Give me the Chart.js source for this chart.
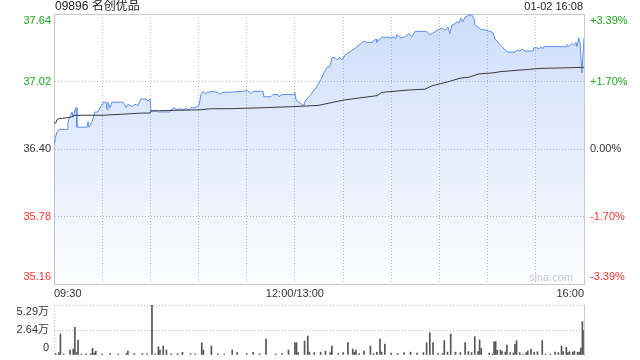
<!doctype html>
<html lang="zh">
<head>
<meta charset="utf-8">
<title>09896 名创优品</title>
<style>
  * { margin: 0; padding: 0; }
  body { background: #fff; width: 640px; height: 360px; overflow: hidden; }
  .box { position: relative; width: 640px; height: 360px; }
  #priceChart { position: absolute; left: 0; top: 0; }
  #volChart { position: absolute; left: 0; top: 300px; }
</style>
</head>
<body>
<div class="box">
  <canvas id="priceChart" width="640" height="300"></canvas>
  <canvas id="volChart" width="640" height="60"></canvas>
</div>
<script src="https://cdn.jsdelivr.net/npm/chart.js/dist/chart.umd.min.js"></script>
<script>
const stockName = '09896 名创优品';
const stamp = '01-02 16:08';

// minutes after 09:30, lunch removed (150 = 12:00/13:00, 330 = 16:00)
const priceMin = [
  0, 0.6, 1.9, 3.7, 8.1, 8.7, 11.2, 11.8, 13.1, 13.7,
  14.3, 20.5, 21.2, 21.8, 23.7, 25.5, 27.4, 29.9, 30.5, 32.4,
  33.0, 33.6, 34.9, 36.1, 43.0, 44.8, 46.1, 48.6, 50.4, 52.3,
  54.2, 57.3, 58.5, 59.8, 60.4, 63.5, 64.8, 72.2, 72.8, 74.7,
  76.6, 78.4, 80.3, 82.2, 84.1, 85.3, 87.8, 90.3, 91.5, 92.8,
  94.0, 95.9, 98.4, 102.1, 103.4, 104.6, 107.1, 118.3, 120.2, 122.7,
  123.9, 130.1, 130.7, 135.1, 136.3, 139.5, 140.1, 142.0, 149.4, 150.0,
  150.7, 152.5, 154.4, 155.7, 156.3, 158.1, 160.0, 161.3, 163.1, 164.4,
  166.2, 168.1, 170.0, 171.8, 173.1, 174.9, 176.2, 178.1, 179.3, 181.8,
  184.9, 188.0, 191.1, 193.0, 194.9, 198.0, 200.5, 201.1, 203.6, 205.5,
  206.7, 207.3, 209.8, 211.1, 212.9, 213.5, 216.0, 218.5, 221.0, 222.9,
  224.8, 232.2, 233.5, 236.6, 239.7, 241.6, 243.4, 245.3, 246.5, 247.8,
  249.7, 250.9, 252.2, 253.4, 254.6, 255.9, 258.4, 260.2, 261.5, 262.1,
  264.0, 265.8, 269.6, 271.5, 273.3, 274.6, 277.7, 280.8, 282.7, 287.0,
  288.9, 290.1, 291.4, 293.2, 298.2, 298.8, 300.7, 302.0, 303.2, 304.4,
  305.1, 318.8, 319.4, 320.6, 322.5, 323.8, 325.0, 325.6, 326.8, 327.5,
  328.7, 330
];
const price = [
  36.46, 36.49, 36.56, 36.58, 36.58, 36.65, 36.74, 36.69, 36.76, 36.78,
  36.60, 36.60, 36.65, 36.60, 36.65, 36.74, 36.74, 36.81, 36.83, 36.83,
  36.76, 36.83, 36.78, 36.83, 36.83, 36.78, 36.81, 36.79, 36.81, 36.80,
  36.86, 36.86, 36.84, 36.86, 36.75, 36.75, 36.74, 36.74, 36.76, 36.78,
  36.76, 36.77, 36.76, 36.77, 36.76, 36.78, 36.78, 36.80, 36.90, 36.93,
  36.91, 36.92, 36.93, 36.92, 36.90, 36.92, 36.92, 36.93, 36.94, 36.91,
  36.93, 36.93, 36.88, 36.88, 36.90, 36.90, 36.88, 36.90, 36.90, 36.92,
  36.85, 36.83, 36.81, 36.80, 36.84, 36.87, 36.90, 36.93, 36.96, 36.99,
  37.04, 37.10, 37.15, 37.16, 37.24, 37.24, 37.22, 37.24, 37.22, 37.27,
  37.30, 37.33, 37.37, 37.39, 37.38, 37.38, 37.41, 37.38, 37.42, 37.43,
  37.42, 37.43, 37.42, 37.43, 37.42, 37.45, 37.42, 37.43, 37.46, 37.43,
  37.48, 37.48, 37.45, 37.47, 37.50, 37.51, 37.49, 37.52, 37.46, 37.54,
  37.55, 37.57, 37.56, 37.60, 37.57, 37.61, 37.63, 37.63, 37.60, 37.54,
  37.52, 37.50, 37.49, 37.48, 37.47, 37.41, 37.36, 37.31, 37.29, 37.29,
  37.31, 37.30, 37.32, 37.30, 37.30, 37.33, 37.33, 37.32, 37.34, 37.32,
  37.34, 37.34, 37.36, 37.34, 37.37, 37.35, 37.38, 37.34, 37.42, 37.38,
  37.10, 37.42
];
const avgMin = [
  0, 1.2, 1.9, 3.1, 10.0, 13.1, 30.5, 54.8, 59.8, 60.4,
  90.9, 97.7, 109.6, 132.0, 150.0, 164.4, 180.5, 201.1, 204.2, 219.2,
  231.0, 235.3, 245.9, 252.8, 258.4, 264.6, 273.9, 277.7, 302.6, 330
];
const avgPrice = [
  36.64, 36.64, 36.67, 36.68, 36.69, 36.71, 36.71, 36.73, 36.73, 36.75,
  36.76, 36.77, 36.77, 36.78, 36.79, 36.80, 36.85, 36.89, 36.92, 36.94,
  36.95, 36.98, 37.02, 37.05, 37.06, 37.09, 37.10, 37.11, 37.14, 37.15
];
// volume per minute, in 万
const volMin = [
  1, 3, 4, 6, 10, 12, 13, 14, 15, 17,
  20, 23, 24, 25, 26, 30, 35, 40, 45, 46,
  50, 55, 58, 61, 63, 65, 66, 68, 70, 73,
  77, 80, 85, 88, 92, 93, 98, 102, 106, 111,
  114, 120, 124, 128, 132, 138, 142, 146, 150, 151,
  152, 156, 158, 159, 162, 166, 169, 172, 173, 177,
  180, 183, 186, 187, 188, 190, 193, 197, 199, 201,
  203, 204, 206, 210, 214, 218, 222, 226, 230, 232,
  234, 236, 239, 242, 243, 245, 247, 250, 253, 256,
  258, 260, 262, 264, 265, 266, 271, 273, 274, 275,
  276, 278, 279, 281, 282, 284, 286, 287, 288, 290,
  292, 294, 295, 297, 299, 301, 304, 306, 309, 312,
  314, 316, 317, 319, 320, 321, 323, 324, 326, 327,
  328, 329, 330
];
const vol = [
  0.15, 0.25, 2.22, 0.1, 0.53, 0.63, 2.93, 0.25, 1.59, 0.1,
  0.12, 0.15, 0.71, 0.2, 0.42, 0.1, 0.15, 0.1, 0.15, 0.42,
  0.15, 0.15, 0.12, 5.29, 0.1, 0.88, 0.53, 0.95, 0.53, 0.12,
  0.15, 0.28, 0.12, 0.1, 1.31, 0.53, 0.95, 0.12, 0.1, 0.53,
  0.25, 0.15, 0.28, 0.12, 1.69, 0.1, 0.15, 0.53, 1.31, 1.31,
  0.25, 1.48, 2.01, 0.3, 0.25, 0.3, 0.42, 0.25, 0.95, 0.15,
  0.25, 1.31, 0.63, 0.3, 0.53, 0.15, 0.42, 0.95, 0.15, 0.3,
  1.69, 0.3, 1.16, 0.2, 0.15, 0.25, 0.3, 0.2, 0.25, 1.31,
  2.36, 1.31, 0.15, 0.15, 1.52, 0.3, 2.22, 0.3, 0.25, 1.31,
  0.35, 0.25, 1.94, 0.35, 1.59, 0.71, 0.2, 0.1, 1.41, 1.41,
  0.5, 0.53, 0.35, 0.3, 1.06, 0.25, 0.2, 1.13, 1.52, 0.25,
  0.1, 0.25, 0.42, 0.63, 0.3, 0.35, 1.52, 0.1, 0.1, 0.3,
  0.25, 0.95, 0.35, 0.81, 0.25, 0.35, 0.3, 0.4, 0.3, 0.3,
  0.74, 3.53, 2.58
];

const priceTicks = [35.16, 35.78, 36.40, 37.02, 37.64];
const pctTicks = ['-3.39%', '-1.70%', '0.00%', '+1.70%', '+3.39%'];
const timeTicks = [0, 30, 60, 90, 120, 150, 180, 210, 240, 270, 300, 330];
const timeLabels = ['09:30', '', '', '', '', '12:00/13:00', '', '', '', '', '', '16:00'];
const volTicks = [0, 2.64, 5.29];
const volLabels = ['0', '2.64万', '5.29万'];

const FONT = '"Liberation Sans", Arial, "Noto Sans CJK SC", sans-serif';
Chart.defaults.font.family = FONT;
Chart.defaults.font.size = 11;
Chart.defaults.color = '#333';

const GREEN = '#1aa81a', RED = '#f0382e', DARK = '#333';
const BLUE = '#5a90ee';
const GRID = '#bdbdbd';

// first / last label pushed inside the plot (2-line trick)
function edgeLabel(text, i, n) {
  if (i === 0) return [text, ''];
  if (i === n - 1) return ['', text];
  return text;
}
function toTicks(arr) {
  return arr.map(v => ({ value: v }));
}
function noPad(s) {
  s.paddingTop = 0; s.paddingBottom = 0; s.paddingLeft = 0; s.paddingRight = 0;
}
function sideColor(ctx) {
  if (ctx.index > 2) return GREEN;
  if (ctx.index < 2) return RED;
  return DARK;
}

const headerText = {
  id: 'headerText',
  afterDraw(chart) {
    const { ctx, chartArea: a } = chart;
    ctx.save();
    ctx.textBaseline = 'middle';
    ctx.fillStyle = '#222';
    ctx.font = '12px ' + FONT;
    ctx.textAlign = 'left';
    ctx.fillText(stockName, a.left + 1, 7);
    ctx.font = '11px ' + FONT;
    ctx.textAlign = 'right';
    ctx.fillText(stamp, a.right - 1, 7);
    ctx.fillStyle = '#c8c8c8';
    ctx.fillText('sina.com', a.right - 11, a.bottom - 6);
    ctx.restore();
  }
};

// price chart
const priceChart = new Chart(document.getElementById('priceChart'), {
  type: 'line',
  data: {
    datasets: [{
      label: 'price',
      data: priceMin.map((m, i) => ({ x: m, y: price[i] })),
      borderColor: BLUE,
      borderWidth: 1,
      pointRadius: 0,
      fill: 'start',
      order: 1,
      backgroundColor: ctx => {
        const a = ctx.chart.chartArea;
        if (!a) return 'rgba(90,144,238,0.15)';
        const g = ctx.chart.ctx.createLinearGradient(0, a.top, 0, a.bottom);
        g.addColorStop(0, 'rgba(90,144,238,0.30)');
        g.addColorStop(1, 'rgba(90,144,238,0.02)');
        return g;
      }
    }, {
      label: 'avg',
      data: avgMin.map((m, i) => ({ x: m, y: avgPrice[i] })),
      borderColor: '#3a3a3a',
      borderWidth: 1,
      pointRadius: 0,
      fill: false,
      order: 0
    }]
  },
  options: {
    responsive: false,
    animation: false,
    events: [],
    layout: { padding: { top: 14 } },
    plugins: { legend: { display: false }, tooltip: { enabled: false } },
    scales: {
      x: {
        type: 'linear', min: 0, max: 330,
        afterBuildTicks: s => { s.ticks = toTicks(timeTicks); },
        afterFit: s => { s.height = 16; noPad(s); },
        grid: { color: GRID, drawTicks: false },
        border: { color: '#c8c8c8', dash: [1, 2] },
        ticks: {
          autoSkip: false, maxRotation: 0, align: 'inner', padding: 3, color: DARK,
          callback: (v, i) => timeLabels[i]
        }
      },
      y: {
        position: 'left', min: 35.16, max: 37.64,
        afterBuildTicks: s => { s.ticks = toTicks(priceTicks); },
        afterFit: s => { s.width = 54; noPad(s); },
        grid: {
          drawTicks: false,
          color: ctx => ctx.index === priceTicks.length - 1 ? '#c8c8c8' : GRID
        },
        border: {
          color: '#c8c8c8',
          dash: ctx => ctx.index === priceTicks.length - 1 ? [] : [1, 2]
        },
        ticks: {
          autoSkip: false, padding: 3, color: sideColor,
          callback: (v, i) => edgeLabel(priceTicks[i].toFixed(2), i, priceTicks.length)
        }
      },
      y2: {
        position: 'right', min: 35.16, max: 37.64,
        afterBuildTicks: s => { s.ticks = toTicks(priceTicks); },
        afterFit: s => { s.width = 56; noPad(s); },
        grid: { display: false, drawTicks: false },
        border: { color: '#c8c8c8' },
        ticks: {
          autoSkip: false, padding: 6, color: sideColor,
          callback: (v, i) => edgeLabel(pctTicks[i], i, pctTicks.length)
        }
      }
    }
  },
  plugins: [headerText]
});

// volume chart
const volChart = new Chart(document.getElementById('volChart'), {
  type: 'bar',
  data: {
    datasets: [{
      label: 'vol',
      data: volMin.map((m, i) => ({ x: m, y: vol[i] })),
      backgroundColor: '#555',
      barThickness: 1
    }]
  },
  options: {
    responsive: false,
    animation: false,
    events: [],
    layout: { padding: { top: 5, bottom: 5 } },
    plugins: { legend: { display: false }, tooltip: { enabled: false } },
    scales: {
      x: {
        type: 'linear', min: 0, max: 330, offset: false,
        afterBuildTicks: s => { s.ticks = toTicks([0]); },
        afterFit: s => { s.height = 0; noPad(s); },
        grid: { color: GRID, drawTicks: false, offset: false },
        border: { display: false, dash: [1, 2] },
        ticks: { display: false }
      },
      y: {
        position: 'left', min: 0, max: 5.29,
        afterBuildTicks: s => { s.ticks = toTicks(volTicks); },
        afterFit: s => { s.width = 54; noPad(s); },
        grid: {
          drawTicks: false,
          color: ctx => ctx.index === 0 ? 'rgba(0,0,0,0)' : GRID
        },
        border: { display: false, dash: [1, 2] },
        ticks: {
          autoSkip: false, padding: 5, color: DARK,
          callback: (v, i) => edgeLabel(volLabels[i], i, volLabels.length)
        }
      },
      y2: {
        position: 'right', min: 0, max: 5.29,
        afterFit: s => { s.width = 56; noPad(s); },
        grid: { display: false, drawTicks: false },
        border: { color: '#c8c8c8' },
        ticks: { display: false }
      }
    }
  }
});
</script>
</body>
</html>
